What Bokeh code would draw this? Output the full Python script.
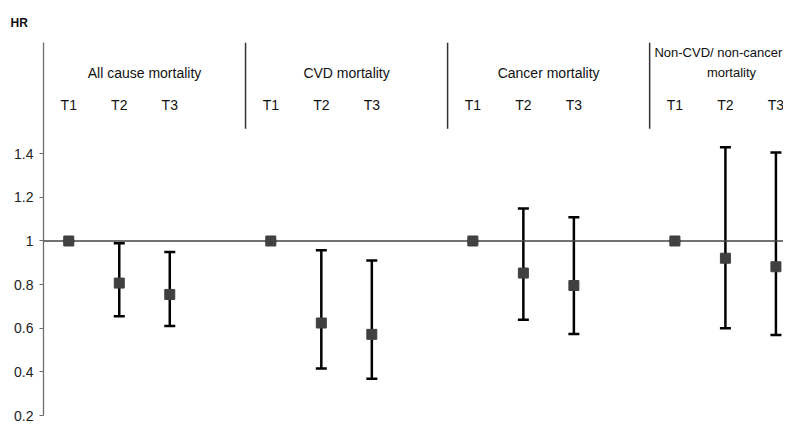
from bokeh.plotting import figure
from bokeh.models import (ColumnDataSource, Whisker, TeeHead, Span,
                          FixedTicker, Range1d)
from bokeh.core.properties import value
from bokeh.embed import file_html
from bokeh.resources import INLINE

# ---- data ----
groups = ["All cause mortality", "CVD mortality", "Cancer mortality"]
last_group_lines = ["Non-CVD/ non-cancer", "mortality"]
tertiles = ["T1", "T2", "T3"]
hr = [1.00, 0.807, 0.755,
      1.00, 0.624, 0.572,
      1.00, 0.853, 0.796,
      1.00, 0.921, 0.882]
ci_low = [1.00, 0.655, 0.610,
          1.00, 0.415, 0.369,
          1.00, 0.639, 0.574,
          1.00, 0.600, 0.569]
ci_high = [1.00, 0.990, 0.950,
           1.00, 0.958, 0.911,
           1.00, 1.149, 1.109,
           1.00, 1.430, 1.406]
y_ticks = [0.2, 0.4, 0.6, 0.8, 1.0, 1.2, 1.4]
n_groups = 4

# x position: each group has 4 slots, tertiles centered in slots 0..2
xs = []
for g in range(n_groups):
    for t in range(len(tertiles)):
        xs.append(g * 4 + t + 0.5)
tlabels = tertiles * n_groups

W, H = 783, 423
FONT = "Liberation Sans"
p = figure(width=W, height=H, output_backend="svg", toolbar_location=None,
           x_range=Range1d(0, 14.65), y_range=Range1d(0.2, 1.91),
           min_border_left=43, min_border_top=42, min_border_bottom=8,
           min_border_right=0, title="HR")
p.title.align = "left"
p.title.offset = -33
p.title.text_font = FONT
p.title.text_font_size = "12px"
p.title.text_font_style = "bold"
p.title.text_color = "#111111"
p.title.standoff = 25
p.outline_line_color = None
p.xgrid.visible = False
p.ygrid.visible = False
p.xaxis.visible = False
p.background_fill_color = "white"
p.border_fill_color = "white"

ax = p.yaxis[0]
ax.ticker = FixedTicker(ticks=y_ticks)
ax.major_label_overrides = {0.2: "0.2", 0.4: "0.4", 0.6: "0.6", 0.8: "0.8",
                            1.0: "1", 1.2: "1.2", 1.4: "1.4"}
ax.axis_line_color = "#6e6e6e"
ax.axis_line_width = 1.3
ax.major_tick_line_color = "#6e6e6e"
ax.major_tick_in = 0
ax.major_tick_out = 4
ax.minor_tick_line_color = None
ax.major_label_text_font = FONT
ax.major_label_text_font_size = "14px"
ax.major_label_text_color = "#222222"
ax.major_label_standoff = 6

# reference line at HR = 1
p.add_layout(Span(location=1.0, dimension="width", line_color="#444444",
                  line_width=1.5))

# dividers between groups
div_x = [4, 8, 12]
p.segment(x0=div_x, x1=div_x, y0=[1.515] * 3, y1=[1.91] * 3,
          line_color="#333333", line_width=1.5)

src = ColumnDataSource(dict(x=xs, hr=hr, lo=ci_low, hi=ci_high, t=tlabels))
wh = Whisker(source=src, base="x", lower="lo", upper="hi",
             line_color="black", line_width=2.5,
             lower_head=TeeHead(size=11, line_color="black", line_width=2.5),
             upper_head=TeeHead(size=11, line_color="black", line_width=2.5))
p.add_layout(wh)
p.scatter(x="x", y="hr", source=src, marker="square", size=10,
          fill_color="#404040", line_color="#404040")

# tertile labels
p.text(x="x", y=1.624, text="t", source=src,
       text_align="center", text_baseline="middle",
       text_font=value(FONT), text_font_size="14px",
       text_color="#111111")

# group headers
hx = [2.0, 6.0, 10.0]
p.text(x=hx, y=[1.771] * 3, text=groups, text_align="center",
       text_baseline="middle", text_font=value(FONT),
       text_font_size="14px", text_color="#111111")
p.text(x=[13.36, 13.62], y=[1.863, 1.771],
       text=last_group_lines, text_align="center",
       text_baseline="middle", text_font=value(FONT),
       text_font_size="13px", text_color="#111111")

open("out.html", "w").write(file_html(p, INLINE))
